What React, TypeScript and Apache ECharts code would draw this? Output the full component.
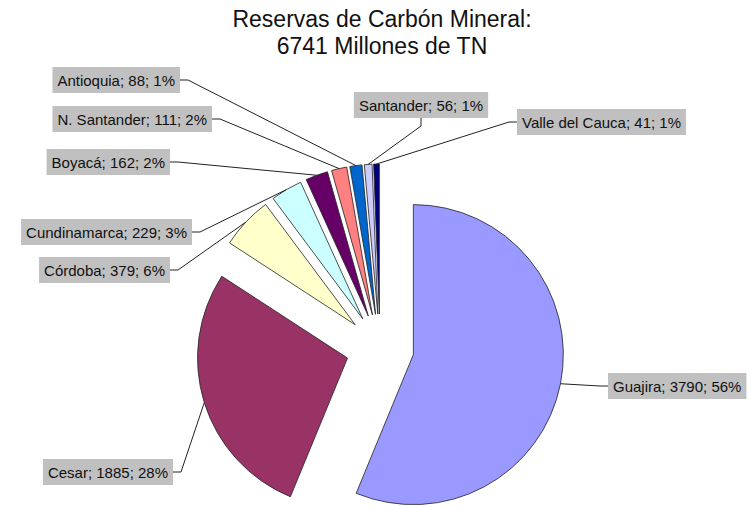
import React, { useEffect, useRef } from "react";
import * as echarts from "echarts";

const TITLE_LINES = ["Reservas de Carbón Mineral:", "6741 Millones de TN"];
const CATEGORIES = [
  "Guajira",
  "Cesar",
  "Córdoba",
  "Cundinamarca",
  "Boyacá",
  "N. Santander",
  "Antioquia",
  "Santander",
  "Valle del Cauca",
];
const VALUES = [3790, 1885, 379, 229, 162, 111, 88, 56, 41];
const COLORS = [
  "#9999FF",
  "#993366",
  "#FFFFCC",
  "#CCFFFF",
  "#660066",
  "#FF8080",
  "#0066CC",
  "#CCCCFF",
  "#000080",
];

// label placement (layout only)
const LABEL_LAYOUT: { side: "left" | "right" | "top"; x: number; y: number }[] = [
  { side: "right", x: 608, y: 386 },
  { side: "left", x: 173, y: 472 },
  { side: "left", x: 170, y: 270 },
  { side: "left", x: 192, y: 232 },
  { side: "left", x: 170, y: 162 },
  { side: "left", x: 212, y: 119 },
  { side: "left", x: 180, y: 80 },
  { side: "top", x: 421, y: 118 },
  { side: "right", x: 517, y: 122 },
];

const CENTER = [380, 348];
const RADIUS = 150;
const OFFSET = 34;

function percents(vals: number[]): number[] {
  // largest remainder rounding, as the pie chart does
  const total = vals.reduce((a, b) => a + b, 0);
  const raw = vals.map((v) => (v / total) * 100);
  const fl = raw.map((r) => Math.floor(r));
  let left = 100 - fl.reduce((a, b) => a + b, 0);
  const order = raw
    .map((r, i) => [r - Math.floor(r), i])
    .sort((a, b) => b[0] - a[0]);
  for (let k = 0; k < left; k++) fl[order[k][1]] += 1;
  return fl;
}

export default function App() {
  const ref = useRef<HTMLDivElement>(null);
  useEffect(() => {
    document.body.style.margin = "0";
    if (!ref.current) return;
    const chart = echarts.init(ref.current, undefined, { renderer: "svg" });
    const total = VALUES.reduce((a, b) => a + b, 0);
    const pcts = percents(VALUES);
    const anchors: number[][] = [];
    let cum = 0;
    VALUES.forEach((v) => {
      const mid = ((cum + v / 2) / total) * Math.PI * 2; // clockwise from top
      cum += v;
      const sx = Math.sin(mid);
      const sy = -Math.cos(mid);
      const cx = CENTER[0] + OFFSET * sx;
      const cy = CENTER[1] + OFFSET * sy;
      anchors.push([cx + RADIUS * sx, cy + RADIUS * sy]);
    });

    const graphics: any[] = [];
    CATEGORIES.forEach((name, i) => {
      const L = LABEL_LAYOUT[i];
      const a = anchors[i];
      let elbow: number[];
      let align = "right";
      let valign = "middle";
      if (L.side === "left") {
        elbow = [L.x + 8, L.y];
      } else if (L.side === "right") {
        elbow = [L.x - 8, L.y];
        align = "left";
      } else {
        elbow = [L.x, L.y + 8];
        align = "center";
        valign = "bottom";
      }
      graphics.push({
        type: "polyline",
        silent: true,
        z: 10,
        shape: { points: [a, elbow, [L.x, L.y]] },
        style: { stroke: "#222", lineWidth: 1, fill: null },
      });
      graphics.push({
        type: "text",
        silent: true,
        z: 11,
        x: L.x,
        y: L.y,
        style: {
          text: `${name}; ${VALUES[i]}; ${pcts[i]}%`,
          fontFamily: "Liberation Sans",
          fontSize: 15,
          fill: "#111",
          backgroundColor: "#C0C0C0",
          padding: [6, 5, 5, 5],
          align,
          verticalAlign: valign,
        },
      });
    });

    chart.setOption({
      animation: false,
      backgroundColor: "#ffffff",
      title: {
        text: TITLE_LINES.join("\n"),
        left: 377,
        top: 0,
        textAlign: "center",
        textStyle: {
          fontFamily: "Liberation Sans",
          fontSize: 23,
          fontWeight: "normal",
          color: "#111",
          lineHeight: 27,
        },
      },
      graphic: graphics,
      series: [
        {
          type: "pie",
          center: CENTER,
          radius: RADIUS,
          startAngle: 90,
          clockwise: true,
          selectedMode: "multiple",
          selectedOffset: OFFSET,
          percentPrecision: 0,
          emphasis: { disabled: true },
          select: { itemStyle: { borderColor: "#222", borderWidth: 0.8 } },
          itemStyle: { borderColor: "#222", borderWidth: 0.8 },
          label: { show: false },
          labelLine: { show: false },
          data: CATEGORIES.map((name, i) => ({
            name,
            value: VALUES[i],
            selected: true,
            itemStyle: { color: COLORS[i] },
          })),
        },
      ],
    });
    return () => chart.dispose();
  }, []);
  return <div ref={ref} style={{ width: 749, height: 507 }} />;
}
